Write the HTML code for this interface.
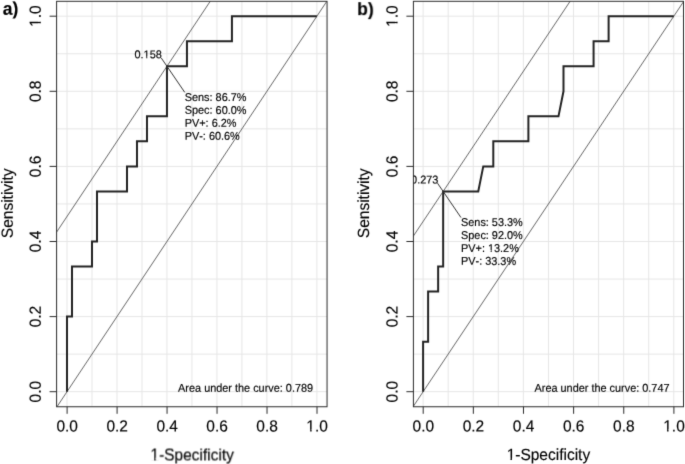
<!DOCTYPE html><html><head><meta charset="utf-8"><title>ROC curves</title><style>html,body{margin:0;padding:0;background:#fff;}svg{display:block;will-change:transform;}text{font-family:"Liberation Sans", sans-serif;font-kerning:none;stroke:#000;stroke-width:0.15px;}</style></head><body>
<svg width="685" height="464" viewBox="0 0 685 464">
<defs><clipPath id="clipa"><rect x="56.6" y="1.3" width="270.45" height="405.45"/></clipPath><clipPath id="f1c1" clipPathUnits="userSpaceOnUse"><path clip-rule="evenodd" d="M-400 -200h800v400h-800zM-18.26 -1.81H-15.5V0.8H-18.26zM-14.43 -1.81H-11.86V0.8H-14.43z"/></clipPath><clipPath id="f1c2" clipPathUnits="userSpaceOnUse"><path clip-rule="evenodd" d="M-400 -200h800v400h-800zM-10.49 -2.16H-6.93V0.8H-10.49zM-5.46 -2.16H-2.11V0.8H-5.46z"/></clipPath><clipPath id="f1c3" clipPathUnits="userSpaceOnUse"><path clip-rule="evenodd" d="M-400 -200h800v400h-800zM-10.49 -2.16H-6.93V0.8H-10.49zM-5.46 -2.16H-2.11V0.8H-5.46z"/></clipPath><clipPath id="f1c4" clipPathUnits="userSpaceOnUse"><path clip-rule="evenodd" d="M-400 -200h800v400h-800zM-41.5 -2.16H-37.93V0.8H-41.5zM-36.46 -2.16H-33.11V0.8H-36.46z"/></clipPath><clipPath id="clipb"><rect x="413.4" y="1.3" width="270.1" height="405.45"/></clipPath><clipPath id="f1c5" clipPathUnits="userSpaceOnUse"><path clip-rule="evenodd" d="M-400 -200h800v400h-800zM26.89 -1.81H29.65V0.8H26.89zM30.72 -1.81H33.29V0.8H30.72z"/></clipPath><clipPath id="f1c6" clipPathUnits="userSpaceOnUse"><path clip-rule="evenodd" d="M-400 -200h800v400h-800zM-10.49 -2.16H-6.93V0.8H-10.49zM-5.46 -2.16H-2.11V0.8H-5.46z"/></clipPath><clipPath id="f1c7" clipPathUnits="userSpaceOnUse"><path clip-rule="evenodd" d="M-400 -200h800v400h-800zM-10.49 -2.16H-6.93V0.8H-10.49zM-5.46 -2.16H-2.11V0.8H-5.46z"/></clipPath><clipPath id="f1c8" clipPathUnits="userSpaceOnUse"><path clip-rule="evenodd" d="M-400 -200h800v400h-800zM-41.5 -2.16H-37.93V0.8H-41.5zM-36.46 -2.16H-33.11V0.8H-36.46z"/></clipPath><filter id="soft" x="0" y="0" width="1" height="1" filterUnits="objectBoundingBox" color-interpolation-filters="sRGB"><feConvolveMatrix order="3" kernelMatrix="0.0121 0.0858 0.0121 0.0858 0.6084 0.0858 0.0121 0.0858 0.0121" divisor="1" edgeMode="duplicate"/></filter></defs>
<rect width="685" height="464" fill="#fff"/>
<g filter="url(#soft)"><rect width="685" height="464" fill="#fff"/>
<path d="M67 1.3V406.75M56.6 391.7H327.05M91.99 1.3V406.75M56.6 354.15H327.05M116.98 1.3V406.75M56.6 316.6H327.05M141.97 1.3V406.75M56.6 279.05H327.05M166.96 1.3V406.75M56.6 241.5H327.05M191.95 1.3V406.75M56.6 203.95H327.05M216.94 1.3V406.75M56.6 166.4H327.05M241.93 1.3V406.75M56.6 128.85H327.05M266.92 1.3V406.75M56.6 91.3H327.05M291.91 1.3V406.75M56.6 53.75H327.05M316.9 1.3V406.75M56.6 16.2H327.05" stroke="#e6e6e6" stroke-width="1" fill="none"/>
<g clip-path="url(#clipa)">
<line x1="52.01" y1="414.23" x2="331.89" y2="-6.33" stroke="#555" stroke-width="0.9"/>
<line x1="52.01" y1="239" x2="331.89" y2="-181.56" stroke="#555" stroke-width="0.9"/>
<path d="M67 391.7 L67 316.6 L72 316.6 L72 266.53 L91.99 266.53 L91.99 241.5 L96.99 241.5 L96.99 191.43 L126.98 191.43 L126.98 166.4 L136.97 166.4 L136.97 141.37 L146.97 141.37 L146.97 116.33 L166.96 116.33 L166.96 66.27 L186.95 66.27 L186.95 41.23 L231.93 41.23 L231.93 16.2 L316.9 16.2" stroke="#222" stroke-width="2" fill="none" stroke-linejoin="miter"/>
<line x1="166.96" y1="66.27" x2="161.26" y2="57.97" stroke="#333" stroke-width="1"/>
<line x1="166.96" y1="66.27" x2="184.76" y2="92.37" stroke="#333" stroke-width="1"/>
<text font-size="10.9" fill="#000" text-anchor="end" transform="translate(161.75 58.37) rotate(0.05) scale(1 1.04)" clip-path="url(#f1c1)">0.158</text>
<text font-size="10.9" fill="#000" transform="translate(184.7 100.9) rotate(0.05) scale(1 1.04)">Sens: 86.7%</text>
<text font-size="10.9" fill="#000" transform="translate(184.7 113.85) rotate(0.05) scale(1 1.04)">Spec: 60.0%</text>
<text font-size="10.9" fill="#000" transform="translate(184.7 126.8) rotate(0.05) scale(1 1.04)">PV+: 6.2%</text>
<text font-size="10.9" fill="#000" transform="translate(184.7 139.75) rotate(0.05) scale(1 1.04)">PV-: 60.6%</text>
<text font-size="10.9" fill="#000" transform="translate(178.1 391.7) rotate(0.05) scale(1 1.04)">Area under the curve: 0.789</text>
</g>
<rect x="56.6" y="1.3" width="270.45" height="405.45" fill="none" stroke="#2a2a2a" stroke-width="1.0"/>
<path d="M67.1 406.75V413.8M56.6 391.7h-7M117.08 406.75V413.8M56.6 316.6h-7M167.06 406.75V413.8M56.6 241.5h-7M217.04 406.75V413.8M56.6 166.4h-7M267.02 406.75V413.8M56.6 91.3h-7M317 406.75V413.8M56.6 16.2h-7" stroke="#2a2a2a" stroke-width="1.0" fill="none"/>
<text font-size="15.5" fill="#000" text-anchor="middle" transform="translate(67.2 431.5) rotate(0.05) scale(1 1.04)">0.0</text>
<text font-size="15.5" fill="#000" text-anchor="middle" transform="translate(40.7 391.7) rotate(-89.95) scale(1 1.04)">0.0</text>
<text font-size="15.5" fill="#000" text-anchor="middle" transform="translate(117.18 431.5) rotate(0.05) scale(1 1.04)">0.2</text>
<text font-size="15.5" fill="#000" text-anchor="middle" transform="translate(40.7 316.6) rotate(-89.95) scale(1 1.04)">0.2</text>
<text font-size="15.5" fill="#000" text-anchor="middle" transform="translate(167.16 431.5) rotate(0.05) scale(1 1.04)">0.4</text>
<text font-size="15.5" fill="#000" text-anchor="middle" transform="translate(40.7 241.5) rotate(-89.95) scale(1 1.04)">0.4</text>
<text font-size="15.5" fill="#000" text-anchor="middle" transform="translate(217.14 431.5) rotate(0.05) scale(1 1.04)">0.6</text>
<text font-size="15.5" fill="#000" text-anchor="middle" transform="translate(40.7 166.4) rotate(-89.95) scale(1 1.04)">0.6</text>
<text font-size="15.5" fill="#000" text-anchor="middle" transform="translate(267.12 431.5) rotate(0.05) scale(1 1.04)">0.8</text>
<text font-size="15.5" fill="#000" text-anchor="middle" transform="translate(40.7 91.3) rotate(-89.95) scale(1 1.04)">0.8</text>
<text font-size="15.5" fill="#000" text-anchor="middle" transform="translate(317.1 431.5) rotate(0.05) scale(1 1.04)" clip-path="url(#f1c2)">1.0</text>
<text font-size="15.5" fill="#000" text-anchor="middle" transform="translate(40.7 16.2) rotate(-89.95) scale(1 1.04)" clip-path="url(#f1c3)">1.0</text>
<text font-size="15.5" fill="#000" text-anchor="middle" transform="translate(192.2 460) rotate(0.05) scale(1 1.04)" clip-path="url(#f1c4)">1-Specificity</text>
<text font-size="15.5" fill="#000" text-anchor="middle" transform="translate(12.8 203.3) rotate(-89.95) scale(1 1.04)">Sensitivity</text>
<text font-size="17.5" fill="#000" transform="translate(2.8 14.8) rotate(0.05) scale(1 1.04)" font-weight="bold">a)</text>
<path d="M423.1 1.3V406.75M413.4 391.7H683.5M448.17 1.3V406.75M413.4 354.15H683.5M473.24 1.3V406.75M413.4 316.6H683.5M498.31 1.3V406.75M413.4 279.05H683.5M523.38 1.3V406.75M413.4 241.5H683.5M548.45 1.3V406.75M413.4 203.95H683.5M573.52 1.3V406.75M413.4 166.4H683.5M598.59 1.3V406.75M413.4 128.85H683.5M623.66 1.3V406.75M413.4 91.3H683.5M648.73 1.3V406.75M413.4 53.75H683.5M673.8 1.3V406.75M413.4 16.2H683.5" stroke="#e6e6e6" stroke-width="1" fill="none"/>
<g clip-path="url(#clipb)">
<line x1="408.06" y1="414.23" x2="688.84" y2="-6.33" stroke="#555" stroke-width="0.9"/>
<line x1="408.06" y1="244" x2="688.84" y2="-176.56" stroke="#555" stroke-width="0.9"/>
<path d="M423.1 391.7 L423.1 341.63 L428.11 341.63 L428.11 291.57 L438.14 291.57 L438.14 266.53 L443.16 266.53 L443.16 191.43 L478.25 191.43 L483.27 166.4 L493.3 166.4 L493.3 141.37 L528.39 141.37 L528.39 116.33 L558.48 116.33 L563.49 91.3 L563.49 66.27 L593.58 66.27 L593.58 41.23 L608.62 41.23 L608.62 16.2 L673.8 16.2" stroke="#222" stroke-width="2" fill="none" stroke-linejoin="miter"/>
<line x1="443.16" y1="191.43" x2="437.46" y2="183.13" stroke="#333" stroke-width="1"/>
<line x1="443.16" y1="191.43" x2="460.96" y2="217.53" stroke="#333" stroke-width="1"/>
<text font-size="10.9" fill="#000" text-anchor="end" transform="translate(438.35 183.53) rotate(0.05) scale(1 1.04)">0.273</text>
<text font-size="10.9" fill="#000" transform="translate(461 226) rotate(0.05) scale(1 1.04)">Sens: 53.3%</text>
<text font-size="10.9" fill="#000" transform="translate(461 238.95) rotate(0.05) scale(1 1.04)">Spec: 92.0%</text>
<text font-size="10.9" fill="#000" transform="translate(461 251.9) rotate(0.05) scale(1 1.04)" clip-path="url(#f1c5)">PV+: 13.2%</text>
<text font-size="10.9" fill="#000" transform="translate(461 264.85) rotate(0.05) scale(1 1.04)">PV-: 33.3%</text>
<text font-size="10.9" fill="#000" transform="translate(534.5 391.7) rotate(0.05) scale(1 1.04)">Area under the curve: 0.747</text>
</g>
<rect x="413.4" y="1.3" width="270.1" height="405.45" fill="none" stroke="#2a2a2a" stroke-width="1.0"/>
<path d="M423.2 406.75V413.8M413.4 391.7h-7M473.34 406.75V413.8M413.4 316.6h-7M523.48 406.75V413.8M413.4 241.5h-7M573.62 406.75V413.8M413.4 166.4h-7M623.76 406.75V413.8M413.4 91.3h-7M673.9 406.75V413.8M413.4 16.2h-7" stroke="#2a2a2a" stroke-width="1.0" fill="none"/>
<text font-size="15.5" fill="#000" text-anchor="middle" transform="translate(423.3 431.5) rotate(0.05) scale(1 1.04)">0.0</text>
<text font-size="15.5" fill="#000" text-anchor="middle" transform="translate(397.5 391.7) rotate(-89.95) scale(1 1.04)">0.0</text>
<text font-size="15.5" fill="#000" text-anchor="middle" transform="translate(473.44 431.5) rotate(0.05) scale(1 1.04)">0.2</text>
<text font-size="15.5" fill="#000" text-anchor="middle" transform="translate(397.5 316.6) rotate(-89.95) scale(1 1.04)">0.2</text>
<text font-size="15.5" fill="#000" text-anchor="middle" transform="translate(523.58 431.5) rotate(0.05) scale(1 1.04)">0.4</text>
<text font-size="15.5" fill="#000" text-anchor="middle" transform="translate(397.5 241.5) rotate(-89.95) scale(1 1.04)">0.4</text>
<text font-size="15.5" fill="#000" text-anchor="middle" transform="translate(573.72 431.5) rotate(0.05) scale(1 1.04)">0.6</text>
<text font-size="15.5" fill="#000" text-anchor="middle" transform="translate(397.5 166.4) rotate(-89.95) scale(1 1.04)">0.6</text>
<text font-size="15.5" fill="#000" text-anchor="middle" transform="translate(623.86 431.5) rotate(0.05) scale(1 1.04)">0.8</text>
<text font-size="15.5" fill="#000" text-anchor="middle" transform="translate(397.5 91.3) rotate(-89.95) scale(1 1.04)">0.8</text>
<text font-size="15.5" fill="#000" text-anchor="middle" transform="translate(674 431.5) rotate(0.05) scale(1 1.04)" clip-path="url(#f1c6)">1.0</text>
<text font-size="15.5" fill="#000" text-anchor="middle" transform="translate(397.5 16.2) rotate(-89.95) scale(1 1.04)" clip-path="url(#f1c7)">1.0</text>
<text font-size="15.5" fill="#000" text-anchor="middle" transform="translate(548.4 460) rotate(0.05) scale(1 1.04)" clip-path="url(#f1c8)">1-Specificity</text>
<text font-size="15.5" fill="#000" text-anchor="middle" transform="translate(369 203.3) rotate(-89.95) scale(1 1.04)">Sensitivity</text>
<text font-size="17.5" fill="#000" transform="translate(357.2 14.8) rotate(0.05) scale(1 1.04)" font-weight="bold">b)</text>
</g>
</svg></body></html>
